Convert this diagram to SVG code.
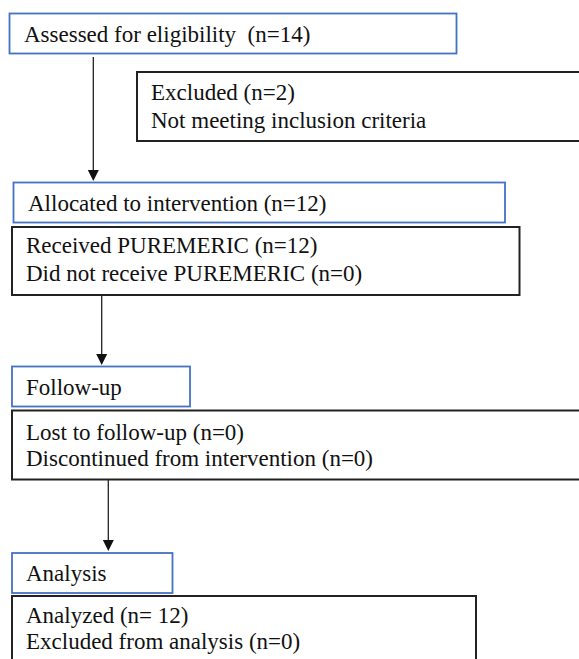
<svg xmlns="http://www.w3.org/2000/svg" width="579" height="659" viewBox="0 0 579 659">
<style>
.blue{fill:#fff;stroke:#4472C4;stroke-width:1.8}
.black{fill:#fff;stroke:#222;stroke-width:2}
text{font-family:"Liberation Serif","Times New Roman",serif;font-size:23px;fill:#111;white-space:pre}
.conn line{stroke:#222;stroke-width:1.3}
.conn polygon{fill:#111}
</style>
<rect width="579" height="659" fill="#fff"/>
<g id="n-assessed"><rect class="blue" x="9.5" y="13.5" width="447" height="40"/><text x="24" y="42" xml:space="preserve">Assessed for eligibility  (n=14)</text></g>
<g id="n-excluded"><rect class="black" x="137" y="72" width="460" height="69"/><text x="151" y="100">Excluded (n=2)</text><text x="151" y="128">Not meeting inclusion criteria</text></g>
<g id="n-allocated"><rect class="blue" x="13.5" y="182.5" width="491.5" height="40"/><text x="28" y="211">Allocated to intervention (n=12)</text></g>
<g id="n-received"><rect class="black" x="12" y="227" width="507.5" height="68"/><text x="26" y="253">Received PUREMERIC (n=12)</text><text x="26" y="281">Did not receive PUREMERIC (n=0)</text></g>
<g id="n-followup"><rect class="blue" x="12" y="366.5" width="178" height="40"/><text x="26" y="395">Follow-up</text></g>
<g id="n-lost"><rect class="black" x="12" y="410.5" width="600" height="69"/><text x="26" y="440">Lost to follow-up (n=0)</text><text x="26" y="466">Discontinued from intervention (n=0)</text></g>
<g id="n-analysis"><rect class="blue" x="12" y="553" width="160.5" height="40"/><text x="26" y="581">Analysis</text></g>
<g id="n-analyzed"><rect class="black" x="12" y="596" width="464" height="80"/><text x="26" y="623">Analyzed (n= 12)</text><text x="26" y="649">Excluded from analysis (n=0)</text></g>
<g id="connectors" class="conn">
<line x1="93.3" y1="57" x2="93.3" y2="171"/><polygon points="87.8,170 98.8,170 93.3,181"/>
<line x1="101.7" y1="296" x2="101.7" y2="355"/><polygon points="96.2,354 107.2,354 101.7,365"/>
<line x1="108.3" y1="480" x2="108.3" y2="541"/><polygon points="102.8,540 113.8,540 108.3,551"/>
</g>
</svg>
